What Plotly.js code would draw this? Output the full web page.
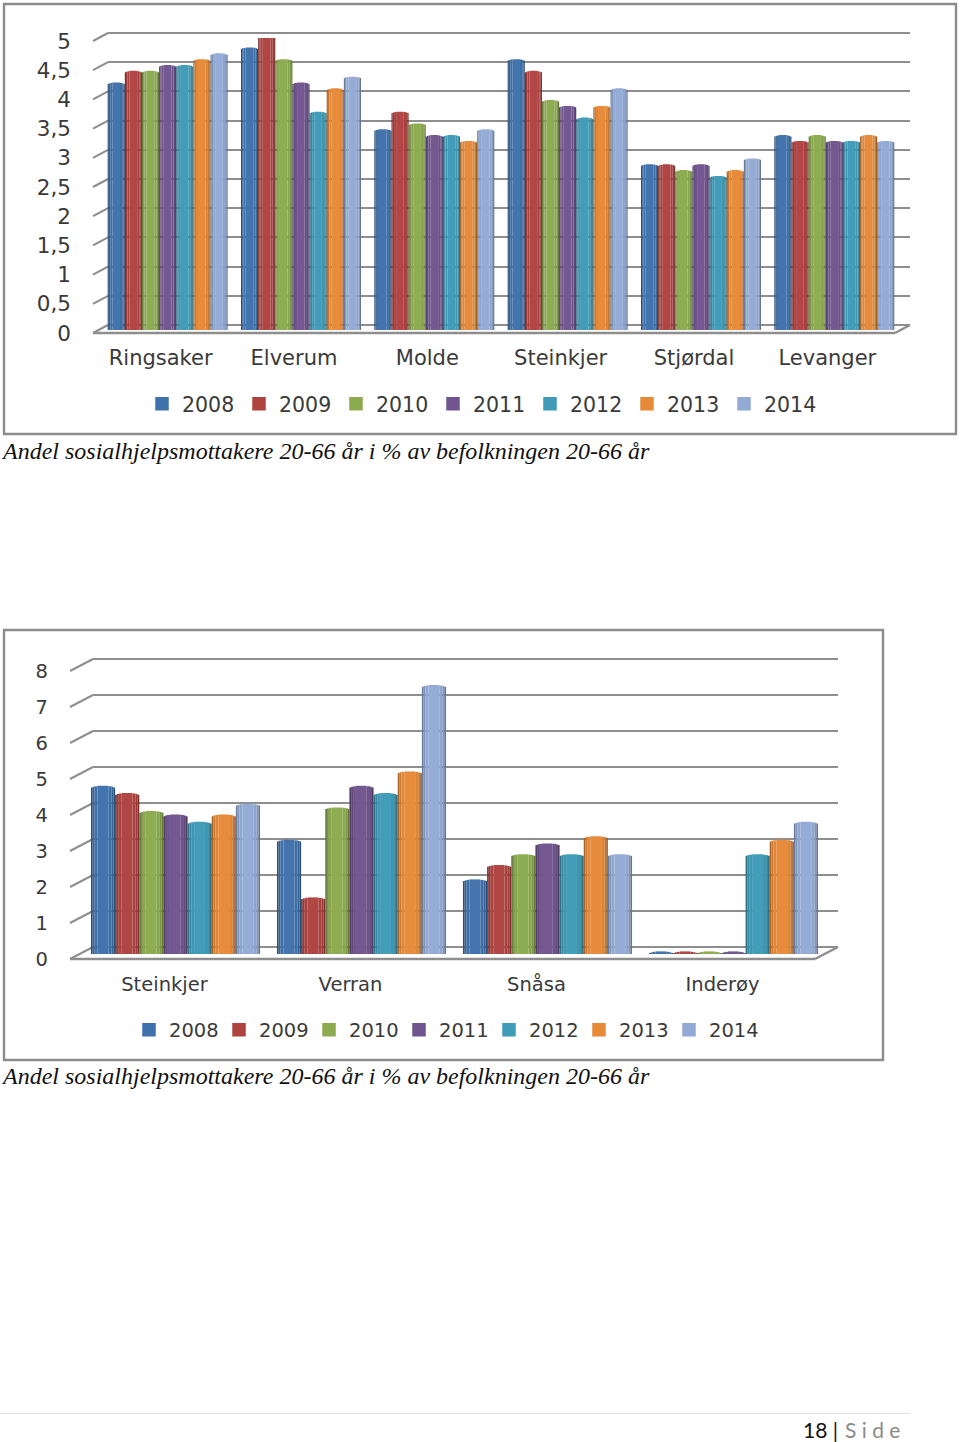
<!DOCTYPE html>
<html>
<head>
<meta charset="utf-8">
<script src="https://cdn.plot.ly/plotly-3.0.1.min.js"></script>
<style>html,body{margin:0;padding:0;background:#fff}</style>
</head>
<body>
<div id="chart" style="width:960px;height:1442px"></div>
<script>
// ---- data ----
const years = ['2008','2009','2010','2011','2012','2013','2014'];
const seriesColors = ['#3F71AB','#AF4340','#8CAB4F','#71558F','#3F9BB8','#E68A38','#92AAD5'];

const categoriesA = ['Ringsaker','Elverum','Molde','Steinkjer','Stjørdal','Levanger'];
const valuesA2008 = [4.2,4.8,3.4,4.6,2.8,3.3];
const valuesA2009 = [4.4,5.0,3.7,4.4,2.8,3.2];
const valuesA2010 = [4.4,4.6,3.5,3.9,2.7,3.3];
const valuesA2011 = [4.5,4.2,3.3,3.8,2.8,3.2];
const valuesA2012 = [4.5,3.7,3.3,3.6,2.6,3.2];
const valuesA2013 = [4.6,4.1,3.2,3.8,2.7,3.3];
const valuesA2014 = [4.7,4.3,3.4,4.1,2.9,3.2];
const tickValsA = [0,0.5,1,1.5,2,2.5,3,3.5,4,4.5,5];
const tickTextA = ['0','0,5','1','1,5','2','2,5','3','3,5','4','4,5','5'];

const categoriesB = ['Steinkjer','Verran','Snåsa','Inderøy'];
const valuesB2008 = [4.6,3.1,2.0,0];
const valuesB2009 = [4.4,1.5,2.4,0];
const valuesB2010 = [3.9,4.0,2.7,0];
const valuesB2011 = [3.8,4.6,3.0,0];
const valuesB2012 = [3.6,4.4,2.7,2.7];
const valuesB2013 = [3.8,5.0,3.2,3.1];
const valuesB2014 = [4.1,7.4,2.7,3.6];
const tickValsB = [0,1,2,3,4,5,6,7,8];
const tickTextB = ['0','1','2','3','4','5','6','7','8'];

const captionText = 'Andel sosialhjelpsmottakere 20-66 år i % av befolkningen 20-66 år';

// ---- layout geometry (page pixels) ----
const W = 960, H = 1442;
const GRID = '#8E8E8E', TXT = '#3A3A3A', FRAME = '#8C8C8C';
const panelA = {
  frame:[4,4,956,434], bars:{left:101,right:901,zero:330,top:38}, maxV:5,
  wall:{left:108,right:910,zero:325,top:33}, dx:15, dy:8,
  cats:categoriesA, vals:[valuesA2008,valuesA2009,valuesA2010,valuesA2011,valuesA2012,valuesA2013,valuesA2014],
  tickVals:tickValsA, tickText:tickTextA, font:21.5, catFont:21, standoffY:36, standoffX:13, shiftX:-7, capPx:2.2,
  legend:{x:142,y:404,entry:52,name:'legend',font:20.5}, group:0.9, wallId:'', barId:'2', caption:451
};
const panelB = {
  frame:[4,630,883,1060], bars:{left:82.5,right:826.5,zero:954,top:666}, maxV:8,
  wall:{left:93,right:838,zero:947,top:659}, dx:23, dy:12,
  cats:categoriesB, vals:[valuesB2008,valuesB2009,valuesB2010,valuesB2011,valuesB2012,valuesB2013,valuesB2014],
  tickVals:tickValsB, tickText:tickTextB, font:19.5, catFont:19.5, standoffY:44, standoffX:16, shiftX:-11, capPx:2.6,
  legend:{x:129,y:1030,entry:45,name:'legend2',font:19.5}, group:0.909, wallId:'3', barId:'4', caption:1076
};

const domX = (a,b)=>[a/W,b/W];
const domY = (bottom,top)=>[1-bottom/H,1-top/H];

function mix(hex,f){
  const n=parseInt(hex.slice(1),16), c=[n>>16,(n>>8)&255,n&255];
  const o=c.map(v=>Math.round(f<1? v*f : v+(255-v)*(f-1)));
  return `rgb(${o[0]},${o[1]},${o[2]})`;
}
// cylinder shading: strip edges across one bar (fractions of its width) and their shade
const stripEdges = [0,0.07,0.15,0.27,0.72,0.85,0.93,1];
const stripShade = [0.72,0.88,0.98,1.02,0.97,0.88,0.7];

const traces=[], shapes=[], layout={};
function buildPanel(p){
  const wy='yaxis'+p.wallId, wx='xaxis'+p.wallId, by='yaxis'+p.barId, bx='xaxis'+p.barId;
  const wRefX='x'+p.wallId, wRefY='y'+p.wallId, bRefX='x'+p.barId, bRefY='y'+p.barId;
  const pxPer=(p.wall.zero-p.wall.top)/p.maxV;
  const pad=4, padV=pad/pxPer;   // small margin so the first and last gridline are kept
  layout[wx]={domain:domX(p.wall.left,p.wall.right),range:[0,1],anchor:wRefY,showgrid:false,zeroline:false,showline:false,showticklabels:false,ticks:'',fixedrange:true};
  layout[wy]={domain:domY(p.wall.zero+pad,p.wall.top-pad),range:[-padV,p.maxV+padV],anchor:wRefX,tickmode:'array',tickvals:p.tickVals,ticktext:p.tickText,
    showgrid:true,gridcolor:GRID,gridwidth:2,zeroline:false,showline:false,ticks:'',
    tickfont:{family:'DejaVu Sans',size:p.font,color:TXT},ticklabelstandoff:p.standoffY,ticklabelshift:p.dy,fixedrange:true};
  layout[bx]={domain:domX(p.bars.left,p.bars.right),range:[-0.5,p.cats.length-0.5],anchor:bRefY,type:'category',categoryorder:'array',categoryarray:p.cats,
    showgrid:false,zeroline:false,showline:false,ticks:'',tickfont:{family:'DejaVu Sans',size:p.catFont,color:TXT},ticklabelstandoff:p.standoffX,ticklabelshift:p.shiftX,fixedrange:true};
  layout[by]={domain:domY(p.bars.zero,p.bars.top),range:[0,p.maxV],anchor:bRefX,showgrid:false,zeroline:false,showline:false,showticklabels:false,ticks:'',fixedrange:true};
  layout[p.legend.name]={orientation:'h',x:p.legend.x/W,xanchor:'left',y:1-p.legend.y/H,yanchor:'middle',
    entrywidth:p.legend.entry,entrywidthmode:'pixels',bgcolor:'rgba(0,0,0,0)',borderwidth:0,
    font:{family:'DejaVu Sans',size:p.legend.font,color:TXT},traceorder:'normal',itemclick:false,itemdoubleclick:false};

  // placeholder so that the back-wall subplot is drawn
  traces.push({type:'scatter',mode:'none',x:[0],y:[0],xaxis:wRefX,yaxis:wRefY,showlegend:false,hoverinfo:'skip'});

  const unit=(p.bars.zero-p.bars.top)/p.maxV;
  const barW=p.group/years.length;
  years.forEach((yr,s)=>{
    // legend-only entry, slightly larger swatch
    traces.push({type:'bar',name:yr,x:[p.cats[0]],y:[null],xaxis:bRefX,yaxis:bRefY,
      marker:{color:seriesColors[s],line:{color:seriesColors[s],width:1.5}},
      legend:p.legend.name,showlegend:true,hoverinfo:'skip'});
    for(let k=0;k<stripShade.length;k++){
      const a=stripEdges[k], b=stripEdges[k+1], t=(a+b)-1;
      const rise=(p.capPx/unit)*Math.sqrt(1-t*t);
      traces.push({type:'bar',name:yr,x:p.cats,y:p.vals[s].map(v=>v+2*rise),base:p.vals[s].map(()=>-rise),
        xaxis:bRefX,yaxis:bRefY,width:(b-a)*barW,offset:-p.group/2+(s+a)*barW,cliponaxis:false,
        marker:{color:mix(seriesColors[s],stripShade[k]),line:{width:0}},
        showlegend:false,hoverinfo:'skip'});
    }
  });

  // frame, side slants of the walls, floor
  const [fx0,fy0,fx1,fy1]=p.frame;
  shapes.push({type:'rect',xref:'paper',yref:'paper',x0:fx0/W,x1:fx1/W,y0:1-fy0/H,y1:1-fy1/H,line:{color:FRAME,width:2.4},layer:'below'});
  p.tickVals.forEach(v=>{
    const py=p.wall.zero-v*pxPer;
    shapes.push({type:'line',xref:'paper',yref:'paper',x0:(p.wall.left-p.dx)/W,x1:p.wall.left/W,y0:1-(py+p.dy)/H,y1:1-py/H,line:{color:GRID,width:2},layer:'below'});
  });
  const fy=p.wall.zero+p.dy;
  shapes.push({type:'line',xref:'paper',yref:'paper',x0:(p.wall.left-p.dx)/W,x1:(p.wall.right-p.dx)/W,y0:1-fy/H,y1:1-fy/H,line:{color:GRID,width:2.5},layer:'below'});
  shapes.push({type:'line',xref:'paper',yref:'paper',x0:(p.wall.right-p.dx)/W,x1:p.wall.right/W,y0:1-fy/H,y1:1-p.wall.zero/H,line:{color:GRID,width:2.5},layer:'below'});
}
buildPanel(panelA);
buildPanel(panelB);
// footer rule
shapes.push({type:'line',xref:'paper',yref:'paper',x0:0,x1:910/W,y0:1-1413.5/H,y1:1-1413.5/H,line:{color:'#E2E2E2',width:1},layer:'below'});

const caption=(y)=>({xref:'paper',yref:'paper',x:0,y:1-y/H,xanchor:'left',yanchor:'middle',showarrow:false,align:'left',borderpad:0,
  text:'<i>'+captionText+'</i>',font:{family:'Liberation Serif',size:24,color:'#111'}});

Object.assign(layout,{
  width:W,height:H,margin:{l:0,r:0,t:0,b:0,pad:0},paper_bgcolor:'#fff',plot_bgcolor:'rgba(0,0,0,0)',
  barmode:'overlay',showlegend:true,shapes:shapes,hovermode:false,
  annotations:[caption(panelA.caption),caption(panelB.caption),
    {xref:'paper',yref:'paper',x:840/W,y:1-1429/H,xanchor:'right',yanchor:'middle',showarrow:false,text:'18 |',font:{family:'Lato',size:21,color:'#111'}},
    {xref:'paper',yref:'paper',x:843/W,y:1-1429/H,xanchor:'left',yanchor:'middle',showarrow:false,text:'S i d e',font:{family:'Lato',size:21,color:'#8A8A8A'}}
  ]
});
Plotly.newPlot('chart',traces,layout,{displayModeBar:false,staticPlot:true});
</script>
</body>
</html>
